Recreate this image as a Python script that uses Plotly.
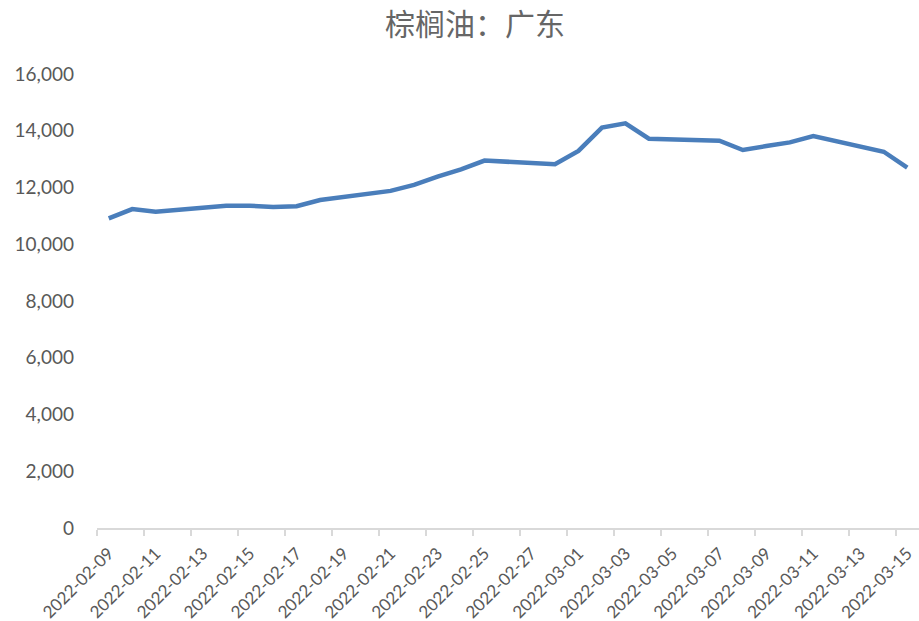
import plotly.graph_objects as go

dates = ["2022-02-09", "2022-02-10", "2022-02-11", "2022-02-14", "2022-02-15",
         "2022-02-16", "2022-02-17", "2022-02-18", "2022-02-21", "2022-02-22",
         "2022-02-23", "2022-02-24", "2022-02-25", "2022-02-28", "2022-03-01",
         "2022-03-02", "2022-03-03", "2022-03-04", "2022-03-07", "2022-03-08",
         "2022-03-09", "2022-03-10", "2022-03-11", "2022-03-14", "2022-03-15"]
prices = [10910, 11240, 11150, 11360, 11360,
          11310, 11340, 11560, 11880, 12090,
          12380, 12640, 12950, 12820, 13290,
          14110, 14260, 13720, 13650, 13320,
          13460, 13590, 13810, 13260, 12700]

tick_dates = ["2022-02-09", "2022-02-11", "2022-02-13", "2022-02-15", "2022-02-17",
              "2022-02-19", "2022-02-21", "2022-02-23", "2022-02-25", "2022-02-27",
              "2022-03-01", "2022-03-03", "2022-03-05", "2022-03-07", "2022-03-09",
              "2022-03-11", "2022-03-13", "2022-03-15"]
y_ticks = [0, 2000, 4000, 6000, 8000, 10000, 12000, 14000, 16000]

fig = go.Figure()
fig.add_trace(go.Scatter(
    x=dates, y=prices, mode="lines",
    line=dict(color="#4A7EBB", width=4.5),
    hoverinfo="x+y",
))

font_family = "Lato, 'Noto Sans', sans-serif"
fig.update_layout(
    width=919, height=621,
    margin=dict(l=97, r=0, t=74, b=93),
    paper_bgcolor="white", plot_bgcolor="white",
    showlegend=False,
    title=dict(text="棕榈油：广东", x=0.517, xanchor="center", y=0.96, yanchor="middle",
               font=dict(family="'Noto Sans CJK SC', sans-serif", size=30, color="#666666")),
    xaxis=dict(
        type="date",
        range=["2022-02-08 12:00", "2022-03-15 12:00"],
        tickmode="array",
        tickvals=tick_dates,
        ticktext=tick_dates,
        tickangle=-45,
        ticks="outside", ticklen=7, tickcolor="rgba(0,0,0,0)",
        showgrid=False,
        showline=True, linecolor="#D9D9D9", linewidth=1.5,
        zeroline=False,
        automargin=False,
        tickfont=dict(family=font_family, size=17, color="#595959"),
        minor=dict(ticks="outside", tick0="2022-02-08 12:00", dtick=2 * 86400000,
                   ticklen=6, tickcolor="#D9D9D9", tickwidth=1.5, showgrid=False),
    ),
    yaxis=dict(
        range=[0, 16000],
        tickmode="array",
        tickvals=y_ticks,
        ticktext=[f"{v:,}" for v in y_ticks],
        showgrid=False, zeroline=False, showline=False, ticks="",
        ticklabelstandoff=22,
        automargin=False,
        tickfont=dict(family=font_family, size=19, color="#595959"),
    ),
)

fig.write_html("out.html", config={"displayModeBar": False},
               post_script="document.body.style.margin='0';document.body.style.overflow='hidden';")
